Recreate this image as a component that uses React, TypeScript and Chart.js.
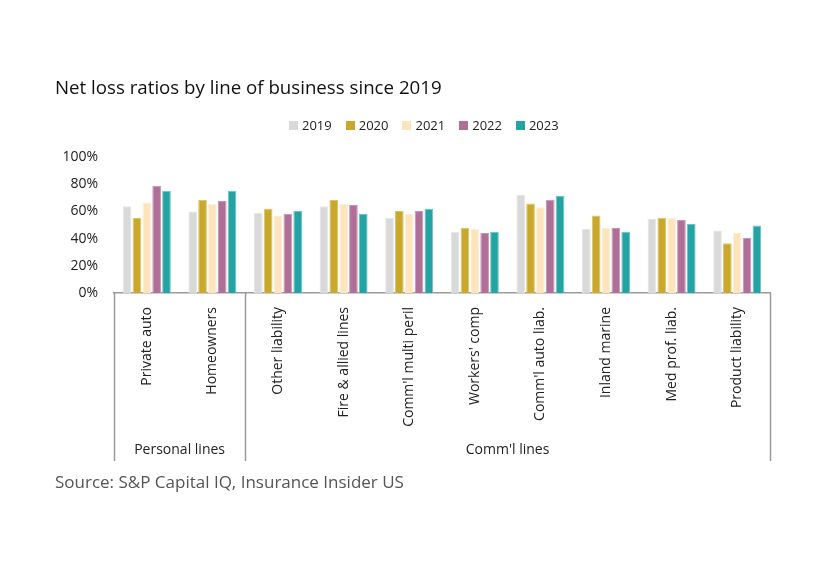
import React, { useEffect, useRef } from "react";
import { Chart, registerables } from "chart.js";

Chart.register(...registerables);

const categories = [
  "Private auto",
  "Homeowners",
  "Other liability",
  "Fire & allied lines",
  "Comm'l multi peril",
  "Workers' comp",
  "Comm'l auto liab.",
  "Inland marine",
  "Med prof. liab.",
  "Product liability",
];
const groups = [
  { label: "Personal lines", count: 2 },
  { label: "Comm'l lines", count: 8 },
];
const years = ["2019", "2020", "2021", "2022", "2023"];
const v2019 = [63.7, 60, 59, 63.7, 55.4, 45.1, 72.3, 47, 54.4, 46];
const v2020 = [55.1, 68.4, 62, 68.4, 60.3, 47.8, 65.9, 57, 55.4, 36.5];
const v2021 = [66.6, 65.7, 57, 65.7, 58.1, 47, 63, 47.8, 55.4, 44.1];
const v2022 = [78.9, 67.6, 58.3, 64.7, 60.3, 44.1, 68.6, 47.8, 53.7, 40.4];
const v2023 = [75.2, 75.2, 60.3, 58.3, 62, 45.1, 71.3, 45.1, 50.7, 49.7];
const yTicks = [0, 20, 40, 60, 80, 100];

const colors = ["#d9d9d9", "#c9a82c", "#fde4bd", "#b06f97", "#24a3a5"];
const borders = ["#e6e6e6", "#dcc36a", "#fdeed6", "#c894b4", "#6cc4c6"];
const series = [v2019, v2020, v2021, v2022, v2023];

const FONT = "'Open Sans', 'Noto Sans', sans-serif";
const TEXT = "#222";

export default function App() {
  const ref = useRef<HTMLCanvasElement | null>(null);

  useEffect(() => {
    document.body.style.margin = "0";
    if (!ref.current) return;
    const groupPlugin = {
      id: "groupLines",
      afterDraw(chart: any) {
        const ctx = chart.ctx;
        const { left, right, bottom } = chart.chartArea;
        const w = (right - left) / categories.length;
        const endY = 461;
        ctx.save();
        ctx.strokeStyle = "#9a9a9a";
        ctx.lineWidth = 1.5;
        let idx = 0;
        const bounds: number[] = [left];
        groups.forEach((g) => {
          idx += g.count;
          bounds.push(left + idx * w);
        });
        bounds.forEach((bx) => {
          ctx.beginPath();
          ctx.moveTo(Math.round(bx) + 0.5, bottom);
          ctx.lineTo(Math.round(bx) + 0.5, endY);
          ctx.stroke();
        });
        ctx.fillStyle = TEXT;
        ctx.font = `14px ${FONT}`;
        ctx.textAlign = "center";
        ctx.textBaseline = "middle";
        groups.forEach((g, i) => {
          const cx = (bounds[i] + bounds[i + 1]) / 2;
          ctx.fillText(g.label, cx, 450);
        });
        ctx.restore();
      },
    };
    const chart = new Chart(ref.current, {
      type: "bar",
      data: {
        labels: categories,
        datasets: years.map((y, i) => ({
          label: y,
          data: series[i],
          backgroundColor: colors[i],
          borderColor: borders[i],
          borderWidth: 1,
          categoryPercentage: 0.75,
          barPercentage: 0.88,
        })),
      },
      options: {
        animation: false,
        responsive: false,
        layout: { padding: { top: 157, left: 0, right: 70, bottom: 0 } },
        plugins: {
          legend: { display: false },
          title: { display: false },
          tooltip: { enabled: false },
        },
        scales: {
          x: {
            grid: { display: false, drawTicks: false },
            border: { display: true, color: "#9a9a9a", width: 1.5 },
            ticks: {
              minRotation: 90,
              maxRotation: 90,
              padding: 14,
              color: TEXT,
              font: { family: FONT, size: 14 },
            },
            afterFit(scale: any) {
              scale.height = 281;
            },
          },
          y: {
            min: 0,
            max: 100,
            afterBuildTicks(scale: any) {
              scale.ticks = yTicks.map((v) => ({ value: v }));
            },
            grid: { display: false, drawTicks: false },
            border: { display: false },
            ticks: {
              padding: 16,
              color: TEXT,
              font: { family: FONT, size: 14 },
              callback: (v: any) => `${v}%`,
            },
            afterFit(scale: any) {
              scale.width = 114;
            },
          },
        },
      },
      plugins: [groupPlugin],
    });
    return () => chart.destroy();
  }, []);

  return (
    <div style={{ position: "relative", width: 840, height: 574, background: "#fff", fontFamily: FONT }}>
      <canvas ref={ref} width={840} height={574} style={{ position: "absolute", left: 0, top: 0 }} />
      <div style={{ position: "absolute", left: 55, top: 74, fontSize: 18.7, color: "#111", whiteSpace: "nowrap" }}>
        Net loss ratios by line of business since 2019
      </div>
      <div style={{ position: "absolute", left: 289, top: 116, display: "flex", fontSize: 13, color: TEXT, whiteSpace: "nowrap" }}>
        {years.map((y, i) => (
          <div key={y} style={{ display: "flex", alignItems: "center", marginRight: 14 }}>
            <span style={{ display: "inline-block", width: 9, height: 9, background: colors[i], marginRight: 4 }} />
            <span>{y}</span>
          </div>
        ))}
      </div>
      <div style={{ position: "absolute", left: 55, top: 470, fontSize: 17, color: "#555", whiteSpace: "nowrap" }}>
        Source: S&amp;P Capital IQ, Insurance Insider US
      </div>
    </div>
  );
}
